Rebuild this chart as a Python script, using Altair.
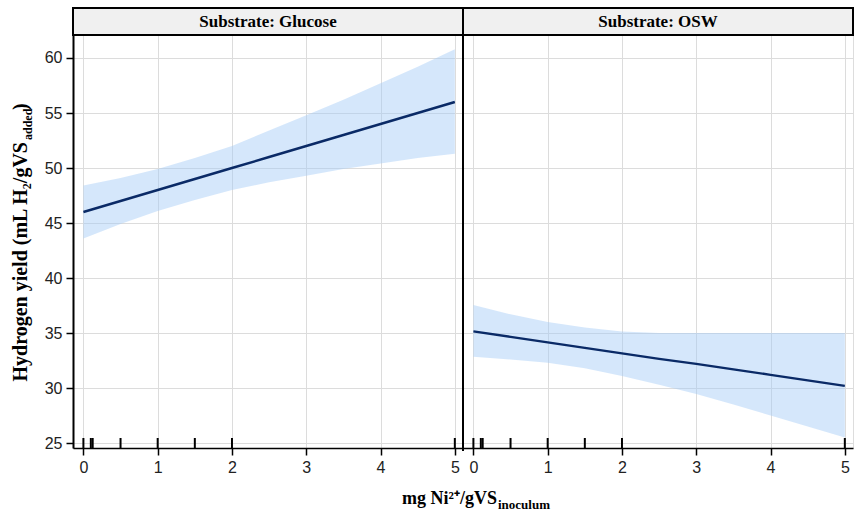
import altair as alt
import pandas as pd

# ---------------- data ----------------
panels = ["Substrate: Glucose", "Substrate: OSW"]
x_vals = [0, 0.5, 1, 1.5, 2, 2.5, 3, 3.5, 4, 4.5, 5]

glucose_fit = [46.0, 47.0, 48.0, 49.0, 50.0, 51.0, 52.0, 53.0, 54.0, 55.0, 56.0]
glucose_lo = [43.6, 44.9, 46.1, 47.1, 48.0, 48.7, 49.3, 49.9, 50.4, 50.9, 51.3]
glucose_hi = [48.4, 49.1, 49.9, 50.9, 52.0, 53.4, 54.8, 56.2, 57.7, 59.2, 60.8]

osw_fit = [35.15, 34.65, 34.15, 33.65, 33.15, 32.65, 32.2, 31.7, 31.2, 30.7, 30.2]
osw_lo = [32.85, 32.6, 32.3, 31.8, 31.1, 30.3, 29.45, 28.5, 27.5, 26.5, 25.5]
osw_hi = [37.55, 36.7, 36.0, 35.5, 35.15, 35.0, 35.0, 35.0, 35.0, 35.0, 35.0]

rug_glucose = [0, 0.1, 0.125, 0.5, 1, 1.5, 2, 5]
rug_osw = [0, 0.1, 0.125, 0.5, 1, 1.5, 2, 5]

x_ticks = [0, 1, 2, 3, 4, 5]
y_ticks = [25, 30, 35, 40, 45, 50, 55, 60]

# panel geometry in data units (two panels share one x scale, side by side)
X_LO, X_HI = -0.14, 5.11
OFFSET = X_HI - X_LO  # shift of second panel
Y_LO, Y_HI = 24.55, 62.09

W, H = 780, 413

# ---------------- tables ----------------
rows = []
for i, (fit, lo, hi) in enumerate([(glucose_fit, glucose_lo, glucose_hi),
                                    (osw_fit, osw_lo, osw_hi)]):
    for x, f, l, h in zip(x_vals, fit, lo, hi):
        rows.append({"substrate": panels[i], "x": x, "xs": x + i * OFFSET,
                     "fit": f, "lo": l, "hi": h})
df = pd.DataFrame(rows)

rug_rows = []
for i, rv in enumerate([rug_glucose, rug_osw]):
    for x in rv:
        rug_rows.append({"substrate": panels[i], "xs": x + i * OFFSET})
rug_df = pd.DataFrame(rug_rows)

strip_df = pd.DataFrame({
    "label": panels,
    "x0": [X_LO, X_HI],
    "x1": [X_HI, X_HI + OFFSET],
})
strip_df["xc"] = (strip_df["x0"] + strip_df["x1"]) / 2

tick_vals = x_ticks + [t + OFFSET for t in x_ticks]

xscale = alt.Scale(domain=[X_LO, X_HI + OFFSET], nice=False, zero=False)
yscale = alt.Scale(domain=[Y_LO, Y_HI], nice=False, zero=False)

xaxis = alt.Axis(
    values=tick_vals,
    labelExpr=f"toString(round(datum.value > {X_HI} ? datum.value - {OFFSET} : datum.value))",
    title=None, grid=True, gridColor="#dcdcdc", gridWidth=1,
    domainColor="black", domainWidth=1.5,
    tickColor="black", tickSize=7, tickWidth=1.5,
    labelFont="Liberation Sans", labelFontSize=16, labelColor="#222222",
    labelPadding=4, labelOverlap=False, labelFlush=False,
)
yaxis = alt.Axis(
    values=y_ticks, title=None, grid=True, gridColor="#dcdcdc", gridWidth=1,
    domainColor="black", domainWidth=2,
    tickColor="black", tickSize=7, tickWidth=1.5,
    labelFont="Liberation Sans", labelFontSize=16, labelColor="#222222",
    labelPadding=4,
)

band = alt.Chart(df).mark_area(color="#a6cbf6", opacity=0.47).encode(
    x=alt.X("xs:Q", scale=xscale, axis=xaxis),
    y=alt.Y("lo:Q", scale=yscale, axis=yaxis),
    y2="hi:Q",
    detail="substrate:N",
)

line = alt.Chart(df).mark_line(color="#0a2a66", strokeWidth=2.4).encode(
    x="xs:Q", y="fit:Q", detail="substrate:N"
)

rug = alt.Chart(rug_df).mark_rule(color="black", strokeWidth=2).encode(
    x="xs:Q", y=alt.value(H - 10), y2=alt.value(H)
)

strip_rect = alt.Chart(strip_df).mark_rect(
    fill="#f0f0f0", stroke="black", strokeWidth=2
).encode(x="x0:Q", x2="x1:Q", y=alt.value(-27), y2=alt.value(0))

strip_text = alt.Chart(strip_df).mark_text(
    font="Liberation Serif", fontWeight="bold", fontSize=17, color="black",
    baseline="middle", align="center"
).encode(x="xc:Q", y=alt.value(-13.5), text="label:N")

divider = alt.Chart(strip_df.iloc[[1]]).mark_rule(color="black", strokeWidth=2).encode(
    x="x0:Q", y=alt.value(-27), y2=alt.value(H + 3)
)

one = pd.DataFrame({"k": [1]})


def label(text, x, y, size, align, angle=0):
    kw = dict(font="Liberation Serif", fontWeight="bold", fontSize=size,
              color="black", align=align, baseline="middle")
    if angle:
        kw["angle"] = angle
    return alt.Chart(one).mark_text(**kw).encode(
        x=alt.value(x), y=alt.value(y), text=alt.value(text)
    )


y_title = [
    label("Hydrogen yield (mL H\u2082/gVS", -52, 107, 20, "right", 270),
    label("added", -45, 105, 12, "left", 270),
    label(")", -52, 75, 20, "left", 270),
]
x_title = [
    label("mg Ni\u00b2\u207a/gVS", 424, 464, 18, "right"),
    label("inoculum", 425, 470, 13, "left"),
]

chart = alt.layer(
    band, line, rug, strip_rect, strip_text, divider, *y_title, *x_title
).properties(
    width=W, height=H,
    autosize=alt.AutoSizeParams(type="none"),
    padding={"left": 73, "top": 35, "right": 1, "bottom": 68},
).configure_view(stroke=None).configure(background="white")

chart.save("out.html", embed_options={"renderer": "svg", "actions": False})
